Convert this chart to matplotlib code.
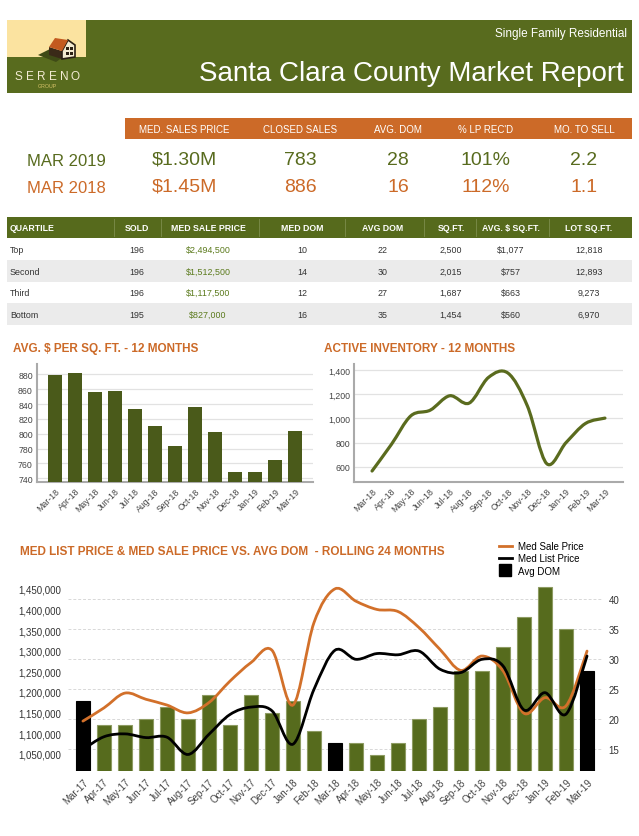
import matplotlib
matplotlib.use("Agg")
import matplotlib.pyplot as plt
import numpy as np
from matplotlib.patches import Rectangle, Polygon, PathPatch
from matplotlib.path import Path
from matplotlib.lines import Line2D

plt.rcParams['font.family'] = ['Liberation Sans', 'DejaVu Sans']

GREEN = '#586b1e'
BAR_GREEN = '#4a5a1a'
ORANGE = '#cc6a28'
TEXT = '#333333'

# ---- data ----
kpi_labels = ['MED. SALES PRICE', 'CLOSED SALES', 'AVG. DOM', "% LP REC'D", 'MO. TO SELL']
kpi_2019 = ['$1.30M', '783', '28', '101%', '2.2']
kpi_2018 = ['$1.45M', '886', '16', '112%', '1.1']

q_headers = ['QUARTILE', 'SOLD', 'MED SALE PRICE', 'MED DOM', 'AVG DOM', 'SQ.FT.', 'AVG. $ SQ.FT.', 'LOT SQ.FT.']
quartiles = ['Top', 'Second', 'Third', 'Bottom']
sold = ['196', '196', '196', '195']
med_price = ['$2,494,500', '$1,512,500', '$1,117,500', '$827,000']
med_dom = ['10', '14', '12', '16']
avg_dom = ['22', '30', '27', '35']
sqft = ['2,500', '2,015', '1,687', '1,454']
avg_ppsf = ['$1,077', '$757', '$663', '$560']
lot_sqft = ['12,818', '12,893', '9,273', '6,970']

months_12 = ['Mar-18', 'Apr-18', 'May-18', 'Jun-18', 'Jul-18', 'Aug-18', 'Sep-18',
             'Oct-18', 'Nov-18', 'Dec-18', 'Jan-19', 'Feb-19', 'Mar-19']
ppsf = [879, 882, 856, 857, 833, 811, 784, 836, 802, 749, 748, 765, 804]
inventory = [564, 785, 1021, 1068, 1187, 1126, 1339, 1375, 1104, 625, 800, 958, 1002]

months_24 = ['Mar-17', 'Apr-17', 'May-17', 'Jun-17', 'Jul-17', 'Aug-17', 'Sep-17', 'Oct-17',
             'Nov-17', 'Dec-17', 'Jan-18', 'Feb-18', 'Mar-18', 'Apr-18', 'May-18', 'Jun-18',
             'Jul-18', 'Aug-18', 'Sep-18', 'Oct-18', 'Nov-18', 'Dec-18', 'Jan-19', 'Feb-19', 'Mar-19']
dom_24 = [23, 19, 19, 20, 22, 20, 24, 19, 24, 21, 23, 18, 16, 16, 14, 16, 20, 22, 28, 28,
          32, 37, 42, 35, 28]
sale_price = [1129000, 1161000, 1197000, 1182000, 1168000, 1149000, 1174000, 1226000,
              1271000, 1301000, 1168000, 1368000, 1450000, 1420000, 1400000, 1395000,
              1356000, 1303000, 1252000, 1287000, 1251000, 1148000, 1186000, 1166000, 1299000]
list_price = [1060000, 1091000, 1098000, 1089000, 1090000, 1048000, 1097000, 1145000,
              1163000, 1154000, 1073000, 1206000, 1301000, 1279000, 1293000, 1290000,
              1299000, 1255000, 1247000, 1279000, 1263000, 1156000, 1198000, 1146000, 1287000]


def smooth_path(xs, ys):
    # catmull-rom through the points, as cubic bezier segments
    pts = np.column_stack([xs, ys]).astype(float)
    n = len(pts)
    verts = [pts[0]]
    codes = [Path.MOVETO]
    for i in range(n - 1):
        p0 = pts[max(i - 1, 0)]
        p1 = pts[i]
        p2 = pts[i + 1]
        p3 = pts[min(i + 2, n - 1)]
        verts += [p1 + (p2 - p0) / 6.0, p2 - (p3 - p1) / 6.0, p2]
        codes += [Path.CURVE4] * 3
    return Path(verts, codes)


def px_rect(x0, y0, x1, y1):
    return [x0 / 639, 1 - y1 / 837, (x1 - x0) / 639, (y1 - y0) / 837]


fig = plt.figure(figsize=(6.39, 8.37), dpi=100, facecolor='white')

# page layer in pixel units
bg = fig.add_axes([0, 0, 1, 1])
bg.set_xlim(0, 639)
bg.set_ylim(837, 0)
bg.axis('off')

# header band + logo
bg.add_patch(Rectangle((7, 21), 625, 73, color=GREEN, lw=0))
bg.add_patch(Rectangle((7, 21), 79, 37, color='#fbe3a0', lw=0))
bg.add_patch(Polygon([(38, 56), (50, 50), (66, 56), (56, 63)], color='#3f4b16', lw=0))
bg.add_patch(Polygon([(49, 48), (62, 52), (62, 60), (49, 56)], color='#3a2a18', lw=0))
bg.add_patch(Polygon([(62, 52), (68, 41), (75, 46), (75, 58), (62, 60)],
                     facecolor='#f3ead0', edgecolor='#2b2014', lw=1.2))
bg.add_patch(Polygon([(49, 48), (55, 39), (68, 41), (62, 52)], color='#c35a1f', lw=0))
for wx, wy in [(66, 48), (70, 48), (66, 53), (70, 53)]:
    bg.add_patch(Rectangle((wx, wy), 2.5, 3, color='#2b2014', lw=0))
for ch, lx in zip('SERENO', [18, 30, 41, 53, 64, 75]):
    bg.text(lx, 77, ch, color='#f3ebd3', fontsize=8.5, ha='center', va='center')
bg.text(47, 86, 'GROUP', color='#d8c46a', fontsize=3.8, ha='center', va='center')
bg.text(627, 34, 'Single Family Residential', color='white', fontsize=8.5,
        ha='right', va='center')
bg.text(624, 74, 'Santa Clara County Market Report', color='white', fontsize=20,
        ha='right', va='center')

# kpi block
bg.add_patch(Rectangle((125, 119), 507, 21, color=ORANGE, lw=0))
kpi_x = [184, 300, 398, 486, 584]
for lbl, kx in zip(kpi_labels, kpi_x):
    bg.text(kx, 129.5, lbl, color='white', fontsize=7, ha='center', va='center')
bg.text(27, 161, 'MAR 2019', color=GREEN, fontsize=12, ha='left', va='center')
bg.text(27, 188, 'MAR 2018', color=ORANGE, fontsize=12, ha='left', va='center')
for v19, v18, kx in zip(kpi_2019, kpi_2018, kpi_x):
    bg.text(kx, 160, v19, color=GREEN, fontsize=14, ha='center', va='center')
    bg.text(kx, 187, v18, color=ORANGE, fontsize=14, ha='center', va='center')

# quartile table
bg.add_patch(Rectangle((7, 218), 625, 21, color='#566a1c', lw=0))
for sx in [114, 161, 259, 345, 424, 476, 549]:
    bg.plot([sx, sx], [220, 237], color='#7d8d4d', lw=0.6)
col_x = [10, 137, 208, 302, 383, 451, 511, 589]
for j, (h, cx) in enumerate(zip(q_headers, col_x)):
    bg.text(cx, 228.5, h, color='white', fontsize=6.3, fontweight='bold',
            ha='left' if j == 0 else 'center', va='center')
row_y = [250, 272, 293.5, 315]
for i in range(4):
    if i % 2 == 1:
        bg.add_patch(Rectangle((7, row_y[i] - 11), 625, 22, color='#ebebeb', lw=0))
    cells = [quartiles[i], sold[i], med_price[i], med_dom[i], avg_dom[i],
             sqft[i], avg_ppsf[i], lot_sqft[i]]
    for j, (c, cx) in enumerate(zip(cells, col_x)):
        bg.text(cx, row_y[i], c, color='#5b7a1c' if j == 2 else TEXT, fontsize=6.4,
                ha='left' if j == 0 else 'center', va='center')

# chart titles
bg.text(13, 349, 'AVG. $ PER SQ. FT. - 12 MONTHS', color=ORANGE, fontsize=8.5,
        fontweight='bold', ha='left', va='center')
bg.text(324, 349, 'ACTIVE INVENTORY - 12 MONTHS', color=ORANGE, fontsize=8.5,
        fontweight='bold', ha='left', va='center')
bg.text(20, 552, 'MED LIST PRICE & MED SALE PRICE VS. AVG DOM  - ROLLING 24 MONTHS',
        color=ORANGE, fontsize=8.5, fontweight='bold', ha='left', va='center')

x12 = np.arange(len(months_12))

# avg $ per sq ft bars
ax1 = fig.add_axes(px_rect(37, 365, 313, 483))
ax1.bar(x12, ppsf, width=0.7, color=BAR_GREEN, zorder=3)
ax1.set_ylim(735, 894)
ax1.set_xlim(-0.9, 12.9)
ax1.set_yticks(range(740, 881, 20))
ax1.grid(axis='y', color='#e2e2e2', lw=0.9, zorder=0)
ax1.set_xticks(x12)
ax1.set_xticklabels(months_12, rotation=45, ha='right', rotation_mode='anchor')
ax1.tick_params(labelsize=6.3, colors='#444444', length=0, pad=3)
for s in ['top', 'right']:
    ax1.spines[s].set_visible(False)
for s in ['left', 'bottom']:
    ax1.spines[s].set_color('#aaaaaa')
    ax1.spines[s].set_linewidth(1.5)

# active inventory line
ax2 = fig.add_axes(px_rect(354, 365, 623, 483))
ax2.add_patch(PathPatch(smooth_path(x12, inventory), fill=False, edgecolor='#5a6b1e',
                        lw=2.3, capstyle='round', zorder=3))
ax2.set_ylim(473, 1450)
ax2.set_xlim(-0.93, 12.93)
ax2.set_yticks(range(600, 1401, 200))
ax2.yaxis.set_major_formatter(matplotlib.ticker.StrMethodFormatter('{x:,.0f}'))
ax2.grid(axis='y', color='#e2e2e2', lw=0.9, zorder=0)
ax2.set_xticks(x12)
ax2.set_xticklabels(months_12, rotation=45, ha='right', rotation_mode='anchor')
ax2.tick_params(labelsize=6.3, colors='#444444', length=0, pad=3)
for s in ['top', 'right']:
    ax2.spines[s].set_visible(False)
for s in ['left', 'bottom']:
    ax2.spines[s].set_color('#aaaaaa')
    ax2.spines[s].set_linewidth(1.5)

# rolling 24 months: dom bars (right axis) + price lines (left axis)
x24 = np.arange(len(months_24))
ax3 = fig.add_axes(px_rect(68, 582, 603, 772))
bar_cols = ['black' if m.startswith('Mar') else '#566b1d' for m in months_24]
edge_cols = ['black' if m.startswith('Mar') else '#8d9b62' for m in months_24]
ax3.bar(x24, dom_24, width=0.67, color=bar_cols, edgecolor=edge_cols, lw=0.8, zorder=2)
ax3.set_ylim(11.28, 42.94)
ax3.set_xlim(-0.71, 24.76)
ax3.set_yticks([15, 20, 25, 30, 35, 40])
ax3.grid(axis='y', color='#d8d8d8', lw=0.7, ls=(0, (3, 2)), zorder=0)
ax3.set_axisbelow(True)
ax3.set_xticks(x24)
ax3.set_xticklabels(months_24, rotation=45, ha='right', rotation_mode='anchor')
for s in ax3.spines.values():
    s.set_visible(False)

ax4 = ax3.twinx()
# twinx moves the host ticks to the left, put them back on the right
ax3.yaxis.set_ticks_position('right')
ax3.yaxis.set_label_position('right')
ax3.tick_params(axis='x', labelsize=7, colors='#444444', length=0, pad=4)
ax3.tick_params(axis='y', labelsize=7, colors='#333333', length=0, pad=4)

ax4.add_patch(PathPatch(smooth_path(x24, sale_price), fill=False, edgecolor='#d2702a',
                        lw=2.0, capstyle='round', zorder=3))
ax4.add_patch(PathPatch(smooth_path(x24, list_price), fill=False, edgecolor='black',
                        lw=2.0, capstyle='round', zorder=4))
ax4.set_ylim(1007900, 1469100)
ax4.set_yticks(range(1050000, 1450001, 50000))
ax4.yaxis.set_major_formatter(matplotlib.ticker.StrMethodFormatter('{x:,.0f}'))
ax4.yaxis.set_ticks_position('left')
ax4.tick_params(axis='y', labelsize=7, colors='#333333', length=0, pad=5)
for s in ax4.spines.values():
    s.set_visible(False)

handles = [Line2D([], [], color='#d2702a', lw=2),
           Line2D([], [], color='black', lw=2),
           Line2D([], [], color='black', marker='s', ls='none', markersize=8)]
fig.legend(handles, ['Med Sale Price', 'Med List Price', 'Avg DOM'], loc='upper left',
           bbox_to_anchor=(499 / 639, 1 - 542 / 837), frameon=False, fontsize=7,
           handlelength=1.3, handletextpad=0.7, labelspacing=0.25, borderpad=0,
           borderaxespad=0)

fig.savefig('out.png', dpi=100, facecolor='white')
